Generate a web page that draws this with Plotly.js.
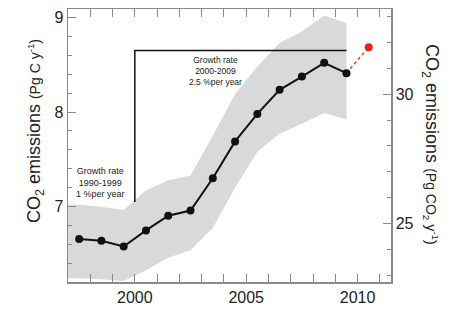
<!DOCTYPE html>
<html>
<head>
<meta charset="utf-8">
<script src="https://cdn.plot.ly/plotly-3.0.1.min.js"></script>
<style>html,body{margin:0;padding:0;background:#fff;}#chart{width:467px;height:311px;}</style>
</head>
<body>
<div id="chart"></div>
<script>
// Emissions (Pg C per year), plotted at mid-year
const years = [1997.5, 1998.5, 1999.5, 2000.5, 2001.5, 2002.5, 2003.5, 2004.5, 2005.5, 2006.5, 2007.5, 2008.5, 2009.5];
const emissions = [6.66, 6.64, 6.58, 6.75, 6.905, 6.96, 7.30, 7.69, 7.98, 8.235, 8.375, 8.52, 8.41];

// Projection point
const projYears = [2009.5, 2010.5];
const projValues = [8.41, 8.685];

// Uncertainty band
const bandYears = [1996.5, 1997.5, 1998.5, 1999.5, 2000.5, 2001.5, 2002.5, 2003.5, 2004.5, 2005.5, 2006.5, 2007.5, 2008.5, 2009.5];
const bandUpper = [7.02, 7.02, 7.0, 6.965, 7.17, 7.28, 7.33, 7.75, 8.19, 8.48, 8.73, 8.85, 9.02, 8.94];
const bandLower = [6.245, 6.245, 6.235, 6.215, 6.33, 6.46, 6.54, 6.775, 7.2, 7.58, 7.77, 7.875, 7.99, 7.92];

// Growth-rate bracket
const bracketX = [2000, 2000, 2009.5];
const bracketY = [7.05, 8.65, 8.65];

const note1 = ['Growth rate', '1990-1999', '1 %per year'];
const note2 = ['Growth rate', '2000-2009', '2.5 %per year'];

const C_TO_CO2 = 3.664;
const yRange = [6.205, 9.088];

const traces = [
  {x: bandYears, y: bandLower, mode: 'lines', line: {width: 0, color: 'rgba(0,0,0,0)'}, hoverinfo: 'skip', showlegend: false},
  {x: bandYears, y: bandUpper, mode: 'lines', line: {width: 0, color: 'rgba(0,0,0,0)'}, fill: 'tonexty', fillcolor: '#d9d9d9', hoverinfo: 'skip', showlegend: false},
  {x: bracketX, y: bracketY, mode: 'lines', line: {color: '#111', width: 1.5}, showlegend: false},
  {x: projYears, y: projValues, mode: 'lines', line: {color: '#ee3b3b', width: 1.5, dash: 'dot'}, showlegend: false},
  {x: [projYears[1]], y: [projValues[1]], mode: 'markers', marker: {color: '#ee2222', size: 8}, showlegend: false},
  {x: years, y: emissions, mode: 'lines+markers', line: {color: '#111', width: 2}, marker: {color: '#111', size: 8}, showlegend: false},
  {x: [years[0]], y: [emissions[0]*C_TO_CO2], yaxis: 'y2', mode: 'markers', marker: {opacity: 0}, hoverinfo: 'skip', showlegend: false}
];

const font = {family: 'Liberation Sans, Arial, sans-serif', color: '#222'};
const axisCol = '#8a8a8a';

const layout = {
  width: 467, height: 311,
  margin: {l: 68, r: 76, t: 9, b: 29},
  paper_bgcolor: '#fff', plot_bgcolor: '#fff',
  font: font,
  xaxis: {
    range: [1997, 2011.5], dtick: 5, tick0: 2000, ticks: 'inside', ticklen: 8, tickcolor: axisCol,
    showline: true, linecolor: axisCol, linewidth: 1.5, mirror: 'allticks', showgrid: false, zeroline: false,
    tickfont: {size: 16, color: '#222'},
    minor: {dtick: 1, tick0: 2000, ticks: 'inside', ticklen: 4, tickcolor: axisCol, showgrid: false}
  },
  yaxis: {
    range: yRange, dtick: 1, tick0: 0, ticks: 'inside', ticklen: 8, tickcolor: axisCol,
    showline: true, linecolor: axisCol, linewidth: 1.5, showgrid: false, zeroline: false,
    tickfont: {size: 16, color: '#222'},
    minor: {dtick: 0.2, tick0: 0, ticks: 'inside', ticklen: 4, tickcolor: axisCol, showgrid: false}
  },
  yaxis2: {
    overlaying: 'y', side: 'right', range: [yRange[0]*C_TO_CO2, yRange[1]*C_TO_CO2],
    dtick: 5, tick0: 0, ticks: 'inside', ticklen: 8, tickcolor: axisCol,
    showline: true, linecolor: axisCol, linewidth: 1.5, showgrid: false, zeroline: false,
    tickfont: {size: 16, color: '#222'},
    minor: {dtick: 1, tick0: 0, ticks: 'inside', ticklen: 4, tickcolor: axisCol, showgrid: false}
  },
  annotations: [
    {xref: 'x', yref: 'y', x: 1998.45, y: 7.26, text: note1.join('<br>'), showarrow: false,
     font: {size: 9, color: '#222', family: 'Liberation Sans, Arial, sans-serif'}, align: 'center'},
    {xref: 'x', yref: 'y', x: 2003.62, y: 8.43, text: note2.join('<br>'), showarrow: false,
     font: {size: 8.5, color: '#222', family: 'Liberation Sans, Arial, sans-serif'}, align: 'center'},
    {xref: 'paper', yref: 'paper', x: -0.102, y: 0.553, xanchor: 'center', yanchor: 'middle', textangle: -90, showarrow: false,
     text: 'CO<sub>2</sub> emissions <span style="font-size:14px">(Pg C y<sup>-1</sup>)</span>',
     font: {size: 18, color: '#222', family: 'Liberation Sans, Arial, sans-serif'}},
    {xref: 'paper', yref: 'paper', x: 1.124, y: 0.505, xanchor: 'center', yanchor: 'middle', textangle: 90, showarrow: false,
     text: 'CO<sub>2</sub> emissions <span style="font-size:14px">(Pg CO<sub>2</sub> y<sup>-1</sup>)</span>',
     font: {size: 18, color: '#222', family: 'Liberation Sans, Arial, sans-serif'}}
  ]
};

Plotly.newPlot('chart', traces, layout, {staticPlot: true, displayModeBar: false});
</script>
</body>
</html>
